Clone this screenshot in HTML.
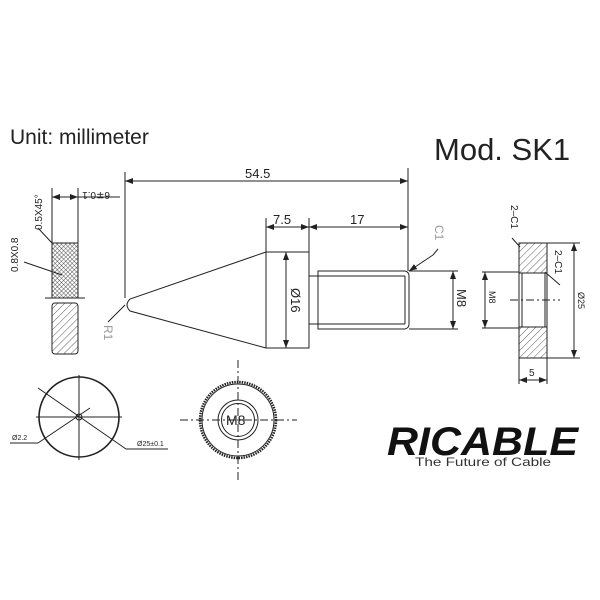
<!DOCTYPE html>
<html><head><style>
html,body{margin:0;padding:0;background:#fff;}
svg{display:block;}
text{font-family:"Liberation Sans",sans-serif;fill:#222;}
</style></head><body>
<svg width="600" height="600" viewBox="0 0 600 600" xmlns="http://www.w3.org/2000/svg">
<defs>
<pattern id="hatch" width="5" height="5" patternUnits="userSpaceOnUse" patternTransform="rotate(45)">
<line x1="0" y1="0" x2="0" y2="5" stroke="#333" stroke-width="0.8"/></pattern>
<pattern id="knurl" width="3" height="3" patternUnits="userSpaceOnUse" patternTransform="rotate(45)">
<rect width="3" height="3" fill="#fff"/><line x1="0" y1="0" x2="0" y2="3" stroke="#333" stroke-width="0.8"/><line x1="0" y1="0" x2="3" y2="0" stroke="#333" stroke-width="0.8"/></pattern>
<marker id="ar" markerWidth="8" markerHeight="6" refX="8" refY="3" orient="auto" markerUnits="userSpaceOnUse"><path d="M0,0 L8,3 L0,6z" fill="#222"/></marker>
</defs>
<text x="10" y="144" font-size="21">Unit: millimeter</text>
<text x="434" y="160" font-size="31">Mod. SK1</text>

<g stroke="#222" stroke-width="1" fill="none">
<!-- small side part -->
<rect x="52" y="243" width="26" height="55" fill="url(#knurl)"/>
<rect x="52" y="303" width="26" height="51" rx="3" fill="url(#hatch)"/>
<line x1="45" y1="298" x2="85" y2="298"/>
<line x1="52" y1="188" x2="52" y2="243"/><line x1="78" y1="188" x2="78" y2="243"/>
<line x1="52" y1="197" x2="78" y2="197" marker-end="url(#ar)"/><line x1="78" y1="197" x2="52" y2="197" marker-end="url(#ar)"/>
<line x1="78" y1="197" x2="120" y2="197"/>
<line x1="38" y1="228" x2="52" y2="243"/>
<line x1="24" y1="262" x2="62" y2="275"/>

<!-- cone -->
<line x1="125" y1="172" x2="125" y2="298"/>
<line x1="125" y1="181" x2="408" y2="181" marker-end="url(#ar)"/><line x1="408" y1="181" x2="125" y2="181" marker-end="url(#ar)"/>
<path d="M266,252 L130,299 Q124,305 130,311 L266,348"/>
<line x1="125" y1="305" x2="108" y2="322"/>
<rect x="266" y="252" width="43" height="96"/>
<line x1="286" y1="252" x2="286" y2="348" marker-end="url(#ar)"/><line x1="286" y1="348" x2="286" y2="252" marker-end="url(#ar)"/>
<line x1="266" y1="218" x2="266" y2="252"/><line x1="309" y1="218" x2="309" y2="252"/>
<line x1="266" y1="227" x2="309" y2="227" marker-end="url(#ar)"/><line x1="309" y1="227" x2="266" y2="227" marker-end="url(#ar)"/>
<line x1="309" y1="227" x2="408" y2="227" marker-end="url(#ar)"/><line x1="408" y1="227" x2="309" y2="227" marker-end="url(#ar)"/>
<line x1="408" y1="168" x2="408" y2="271"/>
<!-- shank -->
<path d="M309,276 L318,276 M309,324 L318,324"/>
<path d="M318,271 L405,271 Q409,272 409,276 L409,324 Q409,328 405,329 L318,329 Z"/>
<line x1="318" y1="276" x2="405" y2="276"/><line x1="318" y1="324" x2="405" y2="324"/>
<line x1="405" y1="276" x2="405" y2="324"/>
<line x1="433" y1="255" x2="409" y2="271" marker-end="url(#ar)"/><line x1="433" y1="255" x2="438" y2="249"/>
<line x1="409" y1="271" x2="458" y2="271"/><line x1="409" y1="329" x2="458" y2="329"/>
<line x1="453" y1="271" x2="453" y2="329" marker-end="url(#ar)"/><line x1="453" y1="329" x2="453" y2="271" marker-end="url(#ar)"/>

<!-- nut -->
<rect x="519" y="243" width="28" height="30" fill="url(#hatch)"/>
<rect x="519" y="327" width="28" height="31" fill="url(#hatch)"/>
<rect x="522" y="273" width="23" height="54"/>
<line x1="519" y1="243" x2="519" y2="358"/><line x1="547" y1="243" x2="547" y2="358"/>
<line x1="510" y1="300" x2="560" y2="300" stroke-dasharray="8,3,2,3"/>
<line x1="482" y1="272" x2="519" y2="272"/><line x1="482" y1="328" x2="519" y2="328"/>
<line x1="485" y1="272" x2="485" y2="328" marker-end="url(#ar)"/><line x1="485" y1="328" x2="485" y2="272" marker-end="url(#ar)"/>
<line x1="547" y1="243" x2="580" y2="243"/><line x1="547" y1="358" x2="580" y2="358"/>
<line x1="574" y1="243" x2="574" y2="358" marker-end="url(#ar)"/><line x1="574" y1="358" x2="574" y2="243" marker-end="url(#ar)"/>
<line x1="519" y1="358" x2="519" y2="384"/><line x1="547" y1="358" x2="547" y2="384"/>
<line x1="519" y1="380" x2="547" y2="380" marker-end="url(#ar)"/><line x1="547" y1="380" x2="519" y2="380" marker-end="url(#ar)"/>
<line x1="512" y1="238" x2="520" y2="247"/>
<line x1="545" y1="272" x2="560" y2="285"/>

<!-- bottom left circle -->
<circle cx="79" cy="417" r="40" stroke-width="1.6"/>
<line x1="36" y1="417" x2="122" y2="417"/><line x1="79" y1="375" x2="79" y2="460"/>
<circle cx="79" cy="417" r="3"/>
<line x1="38" y1="388" x2="126" y2="449"/>
<line x1="126" y1="449" x2="168" y2="449"/>
<line x1="90" y1="408" x2="38" y2="443"/><line x1="38" y1="443" x2="10" y2="443"/>
<!-- middle circle -->
<circle cx="238" cy="420" r="38" stroke-width="2.5" stroke-dasharray="1.5,1"/>
<circle cx="238" cy="420" r="36"/>
<circle cx="238" cy="420" r="20"/><circle cx="238" cy="420" r="16.5"/>
<line x1="180" y1="420" x2="297" y2="420" stroke-dasharray="8,3,2,3"/>
<line x1="238" y1="360" x2="238" y2="480" stroke-dasharray="8,3,2,3"/>
</g>

<!-- labels -->
<g font-size="11">
<text x="245" y="178" font-size="13">54.5</text>
<text x="273" y="224" font-size="13">7.5</text>
<text x="350" y="224" font-size="13">17</text>
<text transform="translate(85,192) rotate(180)" x="-25" y="0" font-size="10">6∓0.1</text>
<text transform="translate(42,230) rotate(-90)" font-size="10">0.5X45°</text>
<text transform="translate(18,272) rotate(-90)" font-size="10">0.8X0.8</text>
<text transform="translate(291,288) rotate(90)" font-size="13">Ø16</text>
<text transform="translate(457,289) rotate(90)" font-size="13">M8</text>
<text transform="translate(489,291) rotate(90)" font-size="9">M8</text>
<text transform="translate(578,292) rotate(90)" font-size="9">Ø25</text>
<text x="529" y="376" font-size="10">5</text>
<text transform="translate(511,205) rotate(90)" font-size="10">2–C1</text>
<text transform="translate(555,250) rotate(90)" font-size="10">2–C1</text>
<text transform="translate(435,225) rotate(90)" font-size="12" style="fill:#999">C1</text>
<text transform="translate(104,325) rotate(90)" font-size="12" style="fill:#999">R1</text>
<text x="12" y="440" font-size="7">Ø2.2</text>
<text x="137" y="446" font-size="7">Ø25±0.1</text>
<text x="226" y="425" font-size="14">M8</text>
</g>
<text x="387" y="455" font-size="40" font-weight="bold" font-style="italic" textLength="191" lengthAdjust="spacingAndGlyphs" style="fill:#111">RICABLE</text>
<text x="415" y="466" font-size="12" textLength="136" lengthAdjust="spacingAndGlyphs" style="fill:#333">The Future of Cable</text>
</svg>
</body></html>
